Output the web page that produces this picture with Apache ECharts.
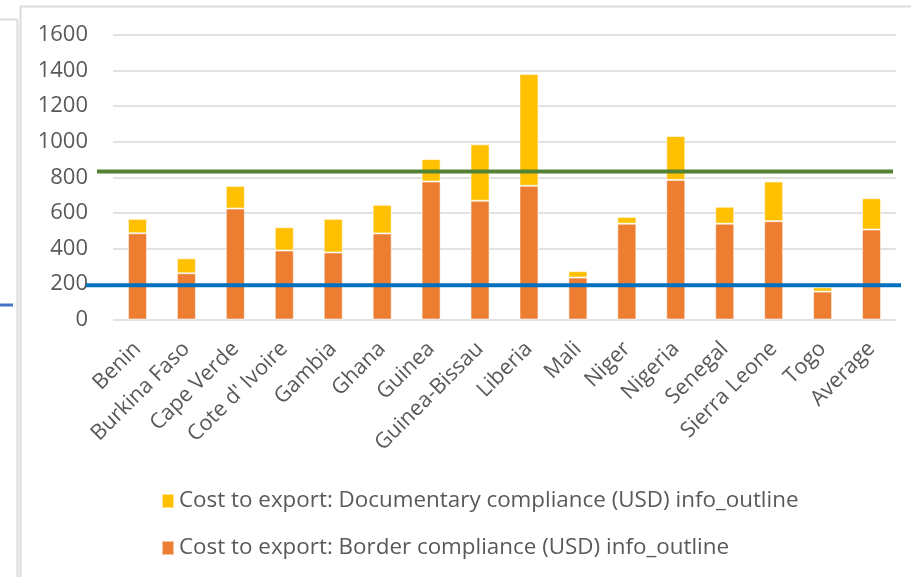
<!DOCTYPE html>
<html>
<head>
<meta charset="utf-8">
<script src="https://cdn.jsdelivr.net/npm/echarts@6/dist/echarts.min.js"></script>
<style>
html,body{margin:0;padding:0;background:#fff;}
#chart{width:911px;height:577px;}
</style>
</head>
<body>
<div id="chart"></div>
<script>
var categories = ["Benin","Burkina Faso","Cape Verde","Cote d' Ivoire","Gambia","Ghana","Guinea","Guinea-Bissau","Liberia","Mali","Niger","Nigeria","Senegal","Sierra Leone","Togo","Average"];
var borderCompliance = [485, 260, 624, 388, 377, 484, 776, 668, 752, 236, 539, 785, 539, 553, 157, 506];
var documentaryCompliance = [81, 84, 127, 131, 189, 161, 126, 317, 628, 36, 38, 247, 95, 223, 24, 176];
var greenLineValue = 833;
var blueLineValue = 193;
var yTicks = [0, 200, 400, 600, 800, 1000, 1200, 1400, 1600];
var seriesNames = ["Cost to export: Documentary compliance (USD) info_outline", "Cost to export: Border compliance (USD) info_outline"];

var font = "'Open Sans', 'Liberation Sans', sans-serif";
var chart = echarts.init(document.getElementById('chart'), null, {renderer: 'canvas'});

function legendFor(name, top) {
  return {
    orient: 'vertical',
    left: 161,
    top: top,
    padding: 0,
    itemWidth: 12,
    itemHeight: 14,
    itemGap: 0,
    icon: 'rect',
    data: [name],
    textStyle: {fontFamily: font, fontSize: 22.4, color: '#595959', lineHeight: 22, padding: [0, 0, 0, 0]}
  };
}

var option = {
  animation: false,
  backgroundColor: '#ffffff',
  textStyle: {fontFamily: font},
  graphic: [
    {type: 'line', shape: {x1: 0, y1: 19.5, x2: 17.5, y2: 19.5}, style: {stroke: '#dcdcdc', lineWidth: 2}},
    {type: 'line', shape: {x1: 17.5, y1: 19.5, x2: 17.5, y2: 577}, style: {stroke: '#dcdcdc', lineWidth: 2}},
    {type: 'line', shape: {x1: 20.5, y1: 6.5, x2: 911, y2: 6.5}, style: {stroke: '#dcdcdc', lineWidth: 2}},
    {type: 'line', shape: {x1: 20.5, y1: 6.5, x2: 20.5, y2: 577}, style: {stroke: '#dcdcdc', lineWidth: 2}},
    {type: 'line', shape: {x1: 0, y1: 305, x2: 13, y2: 305}, style: {stroke: '#4472C4', lineWidth: 3}}
  ],
  legend: [legendFor(seriesNames[0], 490), legendFor(seriesNames[1], 537)],
  grid: [
    {left: 113, right: 15, top: 35, bottom: 257.5},
    {left: 86, right: 10, top: 35, bottom: 257.5},
    {left: 97, right: 18, top: 35, bottom: 257.5}
  ],
  xAxis: [
    {
      type: 'category', gridIndex: 0, data: categories,
      axisLine: {show: false}, axisTick: {show: false},
      axisLabel: {rotate: 45, interval: 0, margin: 26, fontSize: 21.5, color: '#595959', fontFamily: font}
    },
    {type: 'value', gridIndex: 1, min: 0, max: 1, show: false},
    {type: 'value', gridIndex: 2, min: 0, max: 1, show: false}
  ],
  yAxis: [
    {
      type: 'value', gridIndex: 0, min: yTicks[0], max: yTicks[yTicks.length - 1], interval: 200,
      axisLine: {show: false}, axisTick: {show: false},
      splitLine: {lineStyle: {color: '#d9d9d9', width: 1.5}},
      axisLabel: {margin: 25, fontSize: 22, color: '#595959', fontFamily: font, formatter: function (v) { return String(v); }}
    },
    {type: 'value', gridIndex: 1, min: yTicks[0], max: yTicks[yTicks.length - 1], show: false},
    {type: 'value', gridIndex: 2, min: yTicks[0], max: yTicks[yTicks.length - 1], show: false}
  ],
  series: [
    {
      name: seriesNames[1], type: 'bar', stack: 'cost', xAxisIndex: 0, yAxisIndex: 0,
      barWidth: 19, data: borderCompliance,
      itemStyle: {color: '#ED7D31', borderColor: 'rgba(255,255,255,0.55)', borderWidth: 1}
    },
    {
      name: seriesNames[0], type: 'bar', stack: 'cost', xAxisIndex: 0, yAxisIndex: 0,
      barWidth: 19, data: documentaryCompliance,
      itemStyle: {color: '#FFC000', borderColor: 'rgba(255,255,255,0.55)', borderWidth: 1}
    },
    {
      name: 'blue', type: 'line', xAxisIndex: 1, yAxisIndex: 1, z: 10,
      data: [[0, blueLineValue], [1, blueLineValue]], symbol: 'none',
      lineStyle: {color: '#0070C0', width: 4}
    },
    {
      name: 'green', type: 'line', xAxisIndex: 2, yAxisIndex: 2, z: 10,
      data: [[0, greenLineValue], [1, greenLineValue]], symbol: 'none',
      lineStyle: {color: '#548235', width: 4}
    }
  ]
};
chart.setOption(option);
</script>
</body>
</html>
